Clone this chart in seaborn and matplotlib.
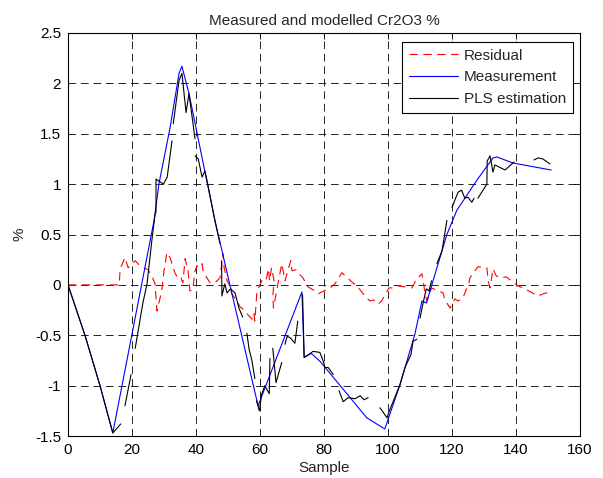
import numpy as np
import pandas as pd
import seaborn as sns
import matplotlib
matplotlib.use('Agg')
import matplotlib.pyplot as plt
from matplotlib.lines import Line2D

meas_x = [0, 5.3, 10, 14, 26.9, 28.4, 31.9, 34.7, 35.6, 37.8, 45.9, 59.4, 73.1, 73.8, 76, 78.8,
          93.4, 99, 103.75, 108.4, 110.6, 112, 118.4, 121.5, 127.8, 132.8, 134, 139, 151]
meas_y = [0, -0.5, -1.0, -1.47, 0.64, 1.0, 1.56, 2.1, 2.17, 1.9, 0.64, -1.2, -0.07, -0.72, -0.68, -0.76,
          -1.32, -1.43, -0.99, -0.49, -0.16, -0.18, 0.5, 0.74, 1.04, 1.26, 1.27, 1.21, 1.14]

# PLS estimation (black), nan = gap in the line
est_x = [0, 5.3, 10, 14, 16.5, np.nan,
         17.8, 19.7, np.nan,
         21, 23.4, 24.7, 26.2, 27.2, 27.5, 27.5, 29.8, 31, 32.5, np.nan,
         32.9, 34.7, 35.6, 36.9, 37.8, 39.7, np.nan,
         39.7, 40.7, 41.9, 42.8, 43.8, 45.9, 47.5, np.nan,
         48, 48.1, 49, 49.7, 50.8, 52.2, 53.4, 54.6, np.nan,
         55.9, 56.6, 57.4, 58.4, np.nan,
         58.9, 59.8, 60.5, 61.5, 62.9, 63.1, np.nan,
         64, 65, 66.8, np.nan,
         67.8, 68.5, 69.6, 70.9, 71.8, np.nan,
         73.3, 73.8, 75.3, 76.6, 78.7, 79.8, 80.3, 81.3, 82.9, np.nan,
         84.7, 86, 87.5, 89.7, 91.3, 92.5, 93.8, np.nan,
         97.5, 99.7, 100.3, 103.75, 105.3, 107.2, 107.8, 109, np.nan,
         110, 110.9, 111.6, 112, 112.8, 113.6, np.nan,
         115.3, 116.9, 118.4, np.nan,
         120, 121.9, 123, 124, 125, 126.2, 126.9, np.nan,
         128.1, 130.9, 131, 131.9, 132.8, 133.4, 134.7, 136.6, 139.4, np.nan,
         145.6, 146.9, 148.4, 150.6]
est_y = [0, -0.5, -1.0, -1.47, -1.38, np.nan,
         -1.2, -0.89, np.nan,
         -0.63, -0.18, 0.01, 0.44, 0.7, 0.72, 1.05, 1.0, 1.07, 1.43, np.nan,
         1.6, 2.03, 2.1, 1.71, 1.9, 1.45, np.nan,
         1.28, 1.25, 1.07, 1.13, 0.98, 0.64, 0.41, np.nan,
         0.24, -0.11, 0.01, -0.08, -0.04, -0.08, -0.23, -0.32, np.nan,
         -0.48, -0.64, -0.74, -0.93, np.nan,
         -1.15, -1.25, -1.09, -1.0, -1.08, -0.73, np.nan,
         -0.63, -0.97, -0.77, np.nan,
         -0.59, -0.51, -0.53, -0.58, -0.36, np.nan,
         -0.1, -0.72, -0.69, -0.66, -0.67, -0.76, -0.82, -0.82, -0.89, np.nan,
         -1.05, -1.16, -1.12, -1.13, -1.1, -1.14, -1.12, np.nan,
         -1.22, -1.32, -1.26, -0.99, -0.82, -0.69, -0.56, -0.54, np.nan,
         -0.33, -0.19, -0.09, -0.04, -0.06, 0.04, np.nan,
         0.21, 0.34, 0.64, np.nan,
         0.77, 0.92, 0.94, 0.86, 0.87, 0.82, 0.86, np.nan,
         0.86, 1.0, 1.23, 1.28, 1.12, 1.19, 1.17, 1.14, 1.22, np.nan,
         1.24, 1.26, 1.25, 1.2]

# residual (red dashed)
res_x = [0, 16, 16.3, 17.8, 18.8, 21, 22.5, 25, 26.2, 27.2, 27.8, 29.3, 30, 30.9, 31.9, 33.4, 34.4,
         35.3, 35.9, 36.6, 37.5, 38.1, 39, 39.7, 40.3, 40.9, 41.9, 42.2, 43.4, 44.4, 45.9, 47.5,
         48.4, 48.8, 49.7, 50.3, 51.2, 52.8, 53.8, 54.7, 56.6, 57.5, 58.1, 58.4, 59, 59.4, 61, 62,
         62.6, 63, 63.6, 64.4, 64, 64.2, 66.8, 67.8, 69.6, 70, 71.3, 72.2, 73.4, 75, 77.2, 78.1,
         81.9, 83.4, 85.6, 89, 90.3, 93.3, 94.4, 95.6, 96.9, 98, 100.3, 102.2, 103.1, 107.5, 109,
         110.6, 111, 111.6, 112.2, 113.6, 117.2, 117.8, 119.4, 120.9, 121.9, 123.4, 125.3, 125.6,
         128.1, 130.9, 131.3, 131.9, 132.8, 133.8, 135.3, 136.9, 140.6, 142.2, 146.9, 148.4, 150.6]
res_y = [0, 0, 0.16, 0.27, 0.17, 0.24, 0.19, 0.15, 0.09, 0.01, -0.26, -0.06, 0.14, 0.32, 0.27, 0.12, 0.06,
         0.07, 0.02, 0.26, 0.14, -0.06, -0.05, 0.14, 0.19, 0.17, 0.21, 0.14, 0.07, 0.02, 0.02, 0.07,
         0.31, 0.17, 0.04, 0.01, -0.09, -0.16, -0.22, -0.24, -0.31, -0.34, -0.28, -0.36, -0.08, -0.04, 0.07, 0.06,
         0.16, 0.04, 0.17, 0.04, -0.11, -0.23, 0.21, 0.04, 0.24, 0.14, 0.15, 0.11, 0.07, -0.02, -0.06, -0.09,
         -0.03, 0.01, 0.12, 0.02, -0.01, -0.13, -0.16, -0.15, -0.19, -0.16, -0.03, -0.03, -0.01, -0.03, 0.06,
         0.11, 0.04, -0.09, -0.16, -0.03, -0.08, -0.15, -0.23, -0.14, -0.16, -0.13, 0.02, 0.07,
         0.18, 0.17, 0.04, -0.03, 0.16, 0.09, 0.07, 0.08, -0.01, -0.03, -0.11, -0.09, -0.07]

xticks = [0, 20, 40, 60, 80, 100, 120, 140, 160]
yticks = [-1.5, -1, -0.5, 0, 0.5, 1, 1.5, 2, 2.5]
ytick_labels = ['-1.5', '-1', '-0.5', '0', '0.5', '1', '1.5', '2', '2.5']

sns.set_style('white')
plt.rcParams['font.family'] = ['Liberation Sans', 'DejaVu Sans']
plt.rcParams['lines.scale_dashes'] = False

fig = plt.figure(figsize=(6.03, 4.78), dpi=100)
ax = fig.add_axes([68 / 603, 1 - 436 / 478, 512 / 603, 403 / 478])

# split estimation into segments at the gaps
est = pd.DataFrame({'x': est_x, 'y': est_y})
est['seg'] = est['x'].isna().cumsum()
est = est.dropna()

sns.lineplot(x=res_x, y=res_y, ax=ax, color='red', linewidth=0.8, sort=False,
             estimator=None, linestyle=(0, (6, 4)))
sns.lineplot(x=meas_x, y=meas_y, ax=ax, color='blue', linewidth=0.8, sort=False, estimator=None)
sns.lineplot(data=est, x='x', y='y', units='seg', estimator=None, sort=False, ax=ax,
             color='black', linewidth=0.8)

ax.set_xlim(0, 160)
ax.set_ylim(-1.5, 2.5)
ax.set_xticks(xticks)
ax.set_xticklabels([str(t) for t in xticks])
ax.set_yticks(yticks)
ax.set_yticklabels(ytick_labels)
ax.grid(True, color='black', linestyle=(0, (5.5, 3.5)), linewidth=0.6)
ax.tick_params(direction='in', length=4, width=0.6, top=True, right=True, labelsize=11,
               colors='black', pad=5)
for s in ax.spines.values():
    s.set_color('black')
    s.set_linewidth(0.8)

ax.set_xlabel('Sample', fontsize=11, labelpad=3)
ax.set_ylabel('%', fontsize=11, labelpad=6)
ax.set_title('Measured and modelled Cr2O3 %', fontsize=11, pad=6)

handles = [Line2D([], [], color='red', linewidth=0.8, linestyle=(0, (6, 4))),
           Line2D([], [], color='blue', linewidth=0.8),
           Line2D([], [], color='black', linewidth=0.8)]
leg = ax.legend(handles, ['Residual', 'Measurement', 'PLS estimation'], loc='upper right',
                bbox_to_anchor=(0.986, 0.978), borderaxespad=0, fontsize=11, fancybox=False,
                framealpha=1, edgecolor='black', handlelength=3.2, handletextpad=0.4,
                labelspacing=0.5, borderpad=0.45)
leg.get_frame().set_linewidth(0.8)

plt.savefig('out.png', dpi=100)
